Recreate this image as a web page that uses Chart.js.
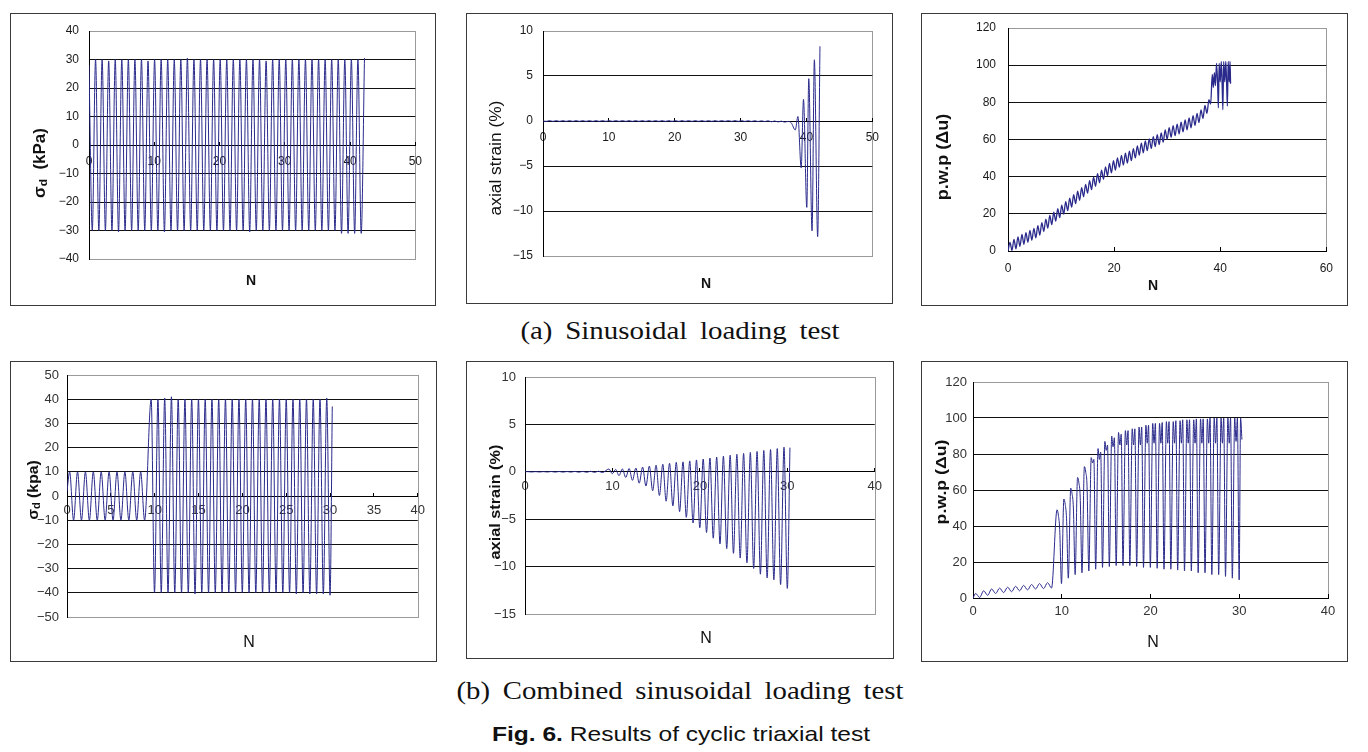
<!DOCTYPE html>
<html><head><meta charset="utf-8">
<script src="https://cdn.jsdelivr.net/npm/chart.js@4.4.1/dist/chart.umd.min.js"></script>
<style>
html,body{margin:0;padding:0;background:#fff;}
body{width:1368px;height:752px;position:relative;overflow:hidden;}
.box{position:absolute;box-sizing:border-box;border:1px solid #3a3a3a;}
.box canvas{position:absolute;left:0;top:0;}
.t{position:absolute;white-space:nowrap;line-height:1;color:#111;}
.t sub{font-size:70%;vertical-align:-0.25em;}
</style></head><body>

<div class="box" style="left:10px;top:13px;width:426px;height:293px"><canvas id="c1" width="424" height="291"></canvas></div>
<div class="box" style="left:466px;top:13px;width:427px;height:291px"><canvas id="c2" width="425" height="289"></canvas></div>
<div class="box" style="left:921px;top:13px;width:427px;height:293px"><canvas id="c3" width="425" height="291"></canvas></div>
<div class="box" style="left:10px;top:361px;width:427px;height:301px"><canvas id="c4" width="425" height="299"></canvas></div>
<div class="box" style="left:466px;top:361px;width:428px;height:298px"><canvas id="c5" width="426" height="296"></canvas></div>
<div class="box" style="left:921px;top:361px;width:427px;height:301px"><canvas id="c6" width="425" height="299"></canvas></div>

<div class="t" data-rot="1" data-w="70" style="left:40px;top:163px;font:bold 16px 'Liberation Sans',Arial,sans-serif">σ<sub>d</sub>&nbsp;&nbsp;(kPa)</div>
<div class="t" data-rot="1" data-w="115" style="left:496px;top:158px;font:16px 'Liberation Sans',Arial,sans-serif">axial strain (%)</div>
<div class="t" data-rot="1" data-w="87" style="left:943px;top:157px;font:bold 16px 'Liberation Sans',Arial,sans-serif">p.w.p (Δu)</div>
<div class="t" data-rot="1" data-w="60" style="left:33px;top:490px;font:bold 15px 'Liberation Sans Narrow','Liberation Sans',sans-serif">σ<sub>d</sub>&nbsp;(kpa)</div>
<div class="t" data-rot="1" data-w="115" style="left:494px;top:502px;font:bold 15px 'Liberation Sans Narrow','Liberation Sans',sans-serif">axial strain (%)</div>
<div class="t" data-rot="1" data-w="85" style="left:940px;top:482px;font:bold 15px 'Liberation Sans Narrow','Liberation Sans',sans-serif">p.w.p (Δu)</div>

<div class="t" style="left:251px;top:280px;font:bold 14px 'Liberation Sans',Arial,sans-serif">N</div>
<div class="t" style="left:706px;top:283px;font:bold 14px 'Liberation Sans',Arial,sans-serif">N</div>
<div class="t" style="left:1153px;top:285px;font:bold 14px 'Liberation Sans',Arial,sans-serif">N</div>
<div class="t" style="left:249px;top:642px;font:16px 'Liberation Sans Narrow','Liberation Sans',sans-serif">N</div>
<div class="t" style="left:706px;top:638px;font:16px 'Liberation Sans Narrow','Liberation Sans',sans-serif">N</div>
<div class="t" style="left:1153px;top:642px;font:16px 'Liberation Sans Narrow','Liberation Sans',sans-serif">N</div>

<div class="t" data-w="319" style="left:680px;top:331px;font:26px 'Liberation Serif','DejaVu Serif',serif;word-spacing:5px">(a) Sinusoidal loading test</div>
<div class="t" data-w="447" style="left:680px;top:691px;font:26px 'Liberation Serif','DejaVu Serif',serif;word-spacing:5px">(b) Combined sinusoidal loading test</div>
<div class="t" data-w="378" style="left:681px;top:734px;font:21px 'Liberation Sans Narrow','Liberation Sans',sans-serif"><b>Fig. 6.</b> Results of cyclic triaxial test</div>

<script>
// ---------------- (a) Sinusoidal loading test ----------------
// deviator stress: one cycle per N
const sigA_start = 28;
const sigA_period = 1.005;
const sigA_trough = [-30,-30,-30,-30,-30.5,-30,-30,-30,-30,-30,
                     -30,-30.5,-30,-30,-30,-30,-30,-30,-30,-30,
                     -30,-30,-30,-30,-30.5,-30,-30,-30,-30,-30,
                     -30,-30,-30,-30,-30,-30,-30,-30,-31,-31,
                     -31,-31];
const sigA_peak = [30,30,29.5,30,30,30,30,30,29.5,30,
                   30,30,30,30,30.5,30,30,30,30,30,
                   30,30,30,30,30,30,29.5,30,30,30,
                   30,30,30,30,30,30,30,30,30,30,
                   30,30.5];

// axial strain: small ripple then liquefaction
const strainA_rippleLow = [-0.04,-0.04,-0.04,-0.04,-0.04,-0.04,-0.04,-0.04,-0.04,-0.04,
                           -0.04,-0.04,-0.04,-0.04,-0.04,-0.04,-0.04,-0.04,-0.04,-0.04,
                           -0.04,-0.04,-0.04,-0.04,-0.04,-0.04,-0.04,-0.04,-0.04,-0.04,
                           -0.05,-0.05,-0.06,-0.06,-0.08,-0.1,-0.12,-0.2];
const strainA_rippleHigh = [0.04,0.04,0.04,0.04,0.04,0.04,0.04,0.04,0.04,0.04,
                            0.04,0.04,0.04,0.04,0.04,0.04,0.04,0.04,0.04,0.04,
                            0.04,0.04,0.04,0.04,0.04,0.04,0.04,0.04,0.04,0.04,
                            0.03,0.03,0.02,0.02,0,-0.02,-0.05];
const strainA_tailN = [38.3,38.7,39.2,39.55,40.05,40.35,40.85,41.2,41.7,42.05];
const strainA_tailV = [-1.0,0.5,-5.2,2.4,-9.6,4.7,-12.2,6.8,-12.85,8.3];

// pore water pressure
const pwpA_period = 0.75;
const pwpA_trough = [0,0.3,1.2,2.5,3.6,4.7,5.8,7.1,8.6,10.5,
                     12.3,14.2,16.1,18,19.8,21.7,23.6,25.5,27.3,29.2,
                     31.1,33,34.8,36.7,38.6,40.5,42.1,43.6,45.1,46.2,
                     47.3,48.6,50.1,51.6,52.8,54,55.1,56.2,57.3,58.6,
                     60.1,61.2,62.1,63,64.1,65.2,66.3,67.6,69.1,71.3,
                     74.1];
const pwpA_peak = [4.6,6.2,7.6,8.9,9.9,11.1,12.2,13.6,15.3,17.2,
                   19.1,20.9,22.8,24.7,26.6,28.5,30.3,32.2,34.1,35.9,
                   37.8,39.7,41.6,43.5,45.3,47.1,48.6,50.1,51.5,52.6,
                   53.7,55.1,56.6,58.1,59.2,60.3,61.5,62.6,63.6,65.1,
                   66.4,67.5,68.3,69.3,70.5,71.6,72.8,74.1,75.9,78.4,
                   81.4];
const pwpA_tailN = [38.2,38.5,38.7,38.9,39.1,39.3,39.5,39.65,39.8,40.0,40.2,40.35,40.5,40.65,40.85,41.05,41.2,41.35,41.5,41.7,41.85,41.95];
const pwpA_tailV = [79,95,88,96,89,101,91,77,101,91,102,91,76,102,91,102,91,78,102,91,102,90];

// ---------------- (b) Combined sinusoidal loading test ----------------
const B_t1 = 0.3, B_half1 = 0.45, B_per1 = 0.9;    // stage 1 (±10 kPa)
const B_t2 = 9.6, B_half2 = 0.38, B_per2 = 0.77;   // stage 2 (±40 kPa)

const sigB_start = 2;
const sigB_peak1 = [10,10,10,10,10,10,10,10,10,10];
const sigB_trough1 = [-10,-10,-10,-10,-10,-10,-10,-10,-10,-10];
const sigB_peak2 = [40,40,40.5,41,40,40,40,40,40,40,
                    40,40,40,40,40,40,40,40,40,40,
                    40,40,40,40,40,40,40.5];
const sigB_trough2 = [-40,-40,-40,-40,-40,-40,-40.5,-40,-40,-40,
                      -40,-40,-40,-40,-40,-40,-40,-40,-40,-40,
                      -40,-40.5,-40,-40.5,-40.5,-40.5,-41];
const sigB_end = [30.25, 37];

const strainB_ripHigh = [0.02,0.02,0.02,0.03,0.03,0.03,0.04,0.04,0.05,0.06];
const strainB_ripLow = [-0.02,-0.02,-0.02,-0.03,-0.03,-0.03,-0.04,-0.05,-0.06,-0.08];
const strainB_peak = [0.3,0.25,0.3,0.35,0.4,0.5,0.6,0.7,0.8,0.9,
                      1.0,1.05,1.15,1.25,1.35,1.45,1.55,1.65,1.75,1.85,
                      1.95,2.05,2.15,2.25,2.35,2.45,2.6];
const strainB_trough = [-0.2,-0.4,-0.6,-0.9,-1.2,-1.5,-2.0,-2.5,-3.1,-3.6,
                        -4.2,-4.8,-5.4,-5.9,-6.4,-7.0,-7.6,-8.1,-8.6,-9.1,
                        -9.6,-10.2,-10.8,-11.2,-11.4,-11.9,-12.3];
const strainB_end = [30.3, 2.55];

const pwpB_ripHigh = [2.5,4,5,5.5,6,6.5,7,7.5,8,8.5];
const pwpB_ripLow = [0.3,1.5,2.5,3,3.5,4,4.5,5,5.2,5.5];
const pwpB_s0 = 9.3;
const pwpB_offsets = [0.17,0.32,0.47,0.67];
const pwpB_p1 = [49,55,61,67,73,78,83,87,90,92,93,94,95,96,97,97,98,98,98.5,99,99,99.5,99.5,100,100,100,100];
const pwpB_dip = [46,52,58,64,70,75,77,82,84,85,85,85,85,86,86,86,86,86,86,86,86,86,86,86,86,86,87];
const pwpB_p2 = [38,44,50,56,62,77,81,85,89,91,93,94,95,96,97,97.5,98,98.5,99,99,99.5,99.5,100,100,100,100,100];
const pwpB_low = [8,11,13,14,15,16,17,17.5,18,18,18,17.5,17,17,16.5,16,16,15.5,15,15,14,14,13,13,12,11,10];
const pwpB_endN = [30.15,30.3];
const pwpB_endV = [100,88];

// tick values
const xTicks1 = [0,10,20,30,40,50], yTicks1 = [-40,-30,-20,-10,0,10,20,30,40];
const xTicks2 = [0,10,20,30,40,50], yTicks2 = [-15,-10,-5,0,5,10];
const xTicks3 = [0,20,40,60],       yTicks3 = [0,20,40,60,80,100,120];
const xTicks4 = [0,5,10,15,20,25,30,35,40], yTicks4 = [-50,-40,-30,-20,-10,0,10,20,30,40,50];
const xTicks5 = [0,10,20,30,40],    yTicks5 = [-15,-10,-5,0,5,10];
const xTicks6 = [0,10,20,30,40],    yTicks6 = [0,20,40,60,80,100,120];

// ---------------- build point lists ----------------
const d1 = [{x:0, y:sigA_start}];
for (let k = 0; k < sigA_peak.length; k++) {
  d1.push({x:(k+0.5)*sigA_period, y:sigA_trough[k]});
  d1.push({x:(k+1)*sigA_period, y:sigA_peak[k]});
}

const d2 = [{x:0, y:0}];
for (let k = 0; k < strainA_rippleLow.length; k++) {
  d2.push({x:(k+0.5)*sigA_period, y:strainA_rippleLow[k]});
  if (k < strainA_rippleHigh.length) d2.push({x:(k+1)*sigA_period, y:strainA_rippleHigh[k]});
}
strainA_tailN.forEach((n,i) => d2.push({x:n, y:strainA_tailV[i]}));

const d3 = [];
for (let k = 0; k < pwpA_trough.length; k++) {
  d3.push({x:k*pwpA_period, y:pwpA_trough[k]});
  d3.push({x:k*pwpA_period + pwpA_period/2, y:pwpA_peak[k]});
}
pwpA_tailN.forEach((n,i) => d3.push({x:n, y:pwpA_tailV[i]}));

function stagePoints(arr, t0, half, per, highs, lows) {
  for (let k = 0; k < highs.length; k++) {
    arr.push({x:t0 + k*per, y:highs[k]});
    arr.push({x:t0 + half + k*per, y:lows[k]});
  }
}
const d4 = [{x:0, y:sigB_start}];
stagePoints(d4, B_t1, B_half1, B_per1, sigB_peak1, sigB_trough1);
stagePoints(d4, B_t2, B_half2, B_per2, sigB_peak2, sigB_trough2);
d4.push({x:sigB_end[0], y:sigB_end[1]});

const d5 = [{x:0, y:0}];
stagePoints(d5, B_t1, B_half1, B_per1, strainB_ripHigh, strainB_ripLow);
stagePoints(d5, B_t2, B_half2, B_per2, strainB_peak, strainB_trough);
d5.push({x:strainB_end[0], y:strainB_end[1]});

const d6 = [{x:0, y:0}];
stagePoints(d6, B_t1, B_half1, B_per1, pwpB_ripHigh, pwpB_ripLow);
for (let k = 0; k < pwpB_p1.length; k++) {
  const s = pwpB_s0 + k*B_per2;
  const vals = [pwpB_p1[k], pwpB_dip[k], pwpB_p2[k], pwpB_low[k]];
  pwpB_offsets.forEach((o,i) => d6.push({x:s+o, y:vals[i]}));
}
pwpB_endN.forEach((n,i) => d6.push({x:n, y:pwpB_endV[i]}));

// ---------------- charts ----------------
const LINE = '#2a2a8c';
const plotBorder = {
  id: 'plotBorder',
  beforeDraw(chart) {
    const {ctx, chartArea: a} = chart;
    ctx.save();
    ctx.strokeStyle = '#9a9a9a';
    ctx.lineWidth = 1;
    ctx.strokeRect(Math.round(a.left) + 0.5, Math.round(a.top) + 0.5, Math.round(a.right - a.left), Math.round(a.bottom - a.top));
    ctx.restore();
  }
};
const fmt = v => String(v).replace('-', '\u2212');
const topFont = {family: "'Liberation Sans', Arial, sans-serif", size: 12};
const botFont = {family: "'Liberation Sans Narrow', 'Liberation Sans', sans-serif", size: 13};

function build(id, o) {
  const yMin = o.yTicks[0], yMax = o.yTicks[o.yTicks.length - 1];
  const xMin = o.xTicks[0], xMax = o.xTicks[o.xTicks.length - 1];
  return new Chart(document.getElementById(id), {
    type: 'line',
    data: {datasets: [{data: o.data, borderColor: LINE, borderWidth: o.lw || 1, pointRadius: 0, pointHoverRadius: 0,
                       fill: false, cubicInterpolationMode: 'monotone'}]},
    options: {
      responsive: false, animation: false, events: [],
      layout: {padding: o.pad},
      plugins: {legend: {display: false}, tooltip: {enabled: false}},
      scales: {
        x: {
          type: 'linear', min: xMin, max: xMax,
          position: o.xAtZero ? {y: 0} : 'bottom',
          afterBuildTicks: s => { s.ticks = o.xTicks.map(v => ({value: v})); },
          afterFit: s => { if (!o.xAtZero) s.height = o.xH; },
          grid: {drawOnChartArea: false, drawTicks: true, tickLength: -4, color: '#000', lineWidth: 1},
          border: {display: true, color: '#000', width: 1},
          ticks: {autoSkip: false, maxRotation: 0, padding: o.xPad, color: o.color, font: o.font, callback: fmt}
        },
        y: {
          type: 'linear', min: yMin, max: yMax,
          afterBuildTicks: s => { s.ticks = o.yTicks.map(v => ({value: v})); },
          afterFit: s => { s.width = o.yW; },
          grid: {drawTicks: true, tickLength: o.yPad, tickColor: 'rgba(0,0,0,0)', lineWidth: 1,
                 color: c => (c.tick && (c.tick.value === yMin || c.tick.value === yMax)) ? 'rgba(0,0,0,0)' : '#111'},
          border: {display: true, color: '#000', width: 1},
          ticks: {autoSkip: false, padding: 0, color: o.color, font: o.font, callback: fmt}
        }
      }
    },
    plugins: [plotBorder]
  });
}

build('c1', {data: d1, xTicks: xTicks1, yTicks: yTicks1, xAtZero: true, pad: {top:17, right:18, bottom:46, left:0}, yW: 78, xPad: 13, yPad: 10, font: topFont, color: '#1a1a1a'});
build('c2', {data: d2, xTicks: xTicks2, yTicks: yTicks2, xAtZero: true, pad: {top:17, right:18, bottom:47, left:0}, yW: 76, xPad: 13, yPad: 10, font: topFont, color: '#1a1a1a'});
build('c3', {data: d3, xTicks: xTicks3, yTicks: yTicks3, xAtZero: false, xH: 54, pad: {top:14, right:20, bottom:0, left:0}, yW: 86, xPad: 14, yPad: 12, font: topFont, color: '#1a1a1a', lw: 1.3});
build('c4', {data: d4, xTicks: xTicks4, yTicks: yTicks4, xAtZero: true, pad: {top:13, right:13, bottom:44, left:0}, yW: 56, xPad: 11, yPad: 8, font: botFont, color: '#333'});
build('c5', {data: d5, xTicks: xTicks5, yTicks: yTicks5, xAtZero: true, pad: {top:15, right:13, bottom:44, left:0}, yW: 58, xPad: 11, yPad: 9, font: botFont, color: '#333'});
build('c6', {data: d6, xTicks: xTicks6, yTicks: yTicks6, xAtZero: false, xH: 63, pad: {top:20, right:19, bottom:0, left:0}, yW: 51, xPad: 10, yPad: 6, font: botFont, color: '#333'});

// fit text blocks to their measured widths
document.querySelectorAll('.t').forEach(el => {
  const w = parseFloat(el.dataset.w || 0);
  const s = w ? w / el.offsetWidth : 1;
  const rot = el.dataset.rot ? ' rotate(-90deg)' : '';
  el.style.transform = 'translate(-50%,-50%)' + rot + ' scaleX(' + s.toFixed(3) + ')';
});
</script>
</body></html>
